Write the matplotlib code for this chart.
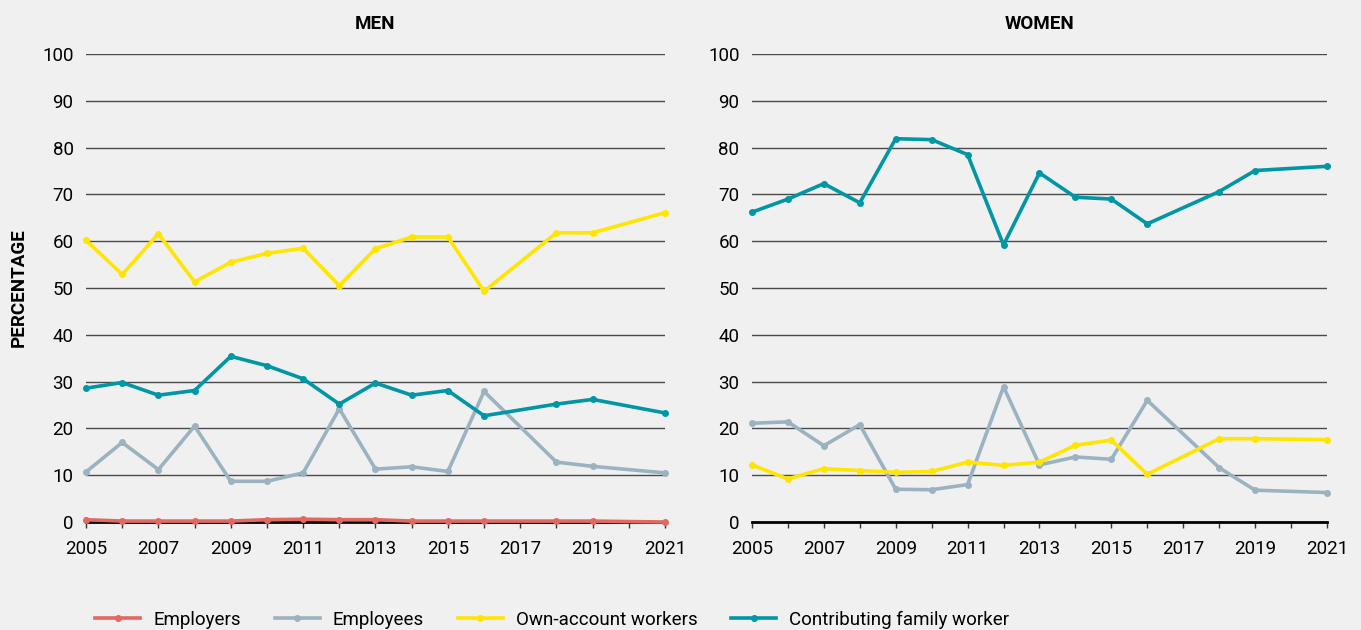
import matplotlib
matplotlib.use("Agg")
import matplotlib.pyplot as plt
import numpy as np

plt.rcParams["font.family"] = ["Roboto", "DejaVu Sans"]

YEARS = [2005, 2006, 2007, 2008, 2009, 2010, 2011, 2012, 2013, 2014, 2015, 2016, 2018, 2019, 2021]

MEN_EMPLOYERS = [0.5, 0.2, 0.2, 0.2, 0.2, 0.5, 0.6, 0.5, 0.5, 0.2, 0.2, 0.2, 0.2, 0.2, 0.0]
MEN_EMPLOYEES = [10.7, 17.0, 11.2, 20.5, 8.7, 8.7, 10.5, 24.2, 11.3, 11.8, 10.8, 27.9, 12.8, 11.9, 10.5]
MEN_OWN = [60.2, 52.9, 61.6, 51.3, 55.5, 57.4, 58.5, 50.5, 58.4, 60.9, 60.9, 49.3, 61.8, 61.8, 66.1]
MEN_FAMILY = [28.6, 29.8, 27.1, 28.1, 35.4, 33.4, 30.6, 25.2, 29.7, 27.1, 28.1, 22.7, 25.2, 26.2, 23.3]

WOMEN_EMPLOYEES = [21.1, 21.4, 16.3, 20.8, 7.0, 6.9, 8.0, 28.9, 12.2, 13.9, 13.4, 26.0, 11.6, 6.8, 6.3]
WOMEN_OWN = [12.2, 9.2, 11.4, 11.0, 10.6, 10.8, 12.8, 12.1, 12.8, 16.4, 17.5, 10.2, 17.8, 17.8, 17.6]
WOMEN_FAMILY = [66.2, 69.0, 72.3, 68.2, 81.9, 81.7, 78.5, 59.2, 74.6, 69.4, 69.0, 63.7, 70.6, 75.1, 76.0]

LABELS = ["Employers", "Employees", "Own-account workers", "Contributing family worker"]
COLORS = ["#e3685f", "#9bb3c0", "#ffe500", "#0096a5"]
BG = "#f0f0f0"

fig = plt.figure(figsize=(13.61, 6.30), dpi=100, facecolor=BG)
ax_men = fig.add_axes([0.0632, 0.1714, 0.4254, 0.7429])
ax_women = fig.add_axes([0.5525, 0.1714, 0.4225, 0.7429])

panels = [
    (ax_men, "MEN", [MEN_EMPLOYERS, MEN_EMPLOYEES, MEN_OWN, MEN_FAMILY]),
    (ax_women, "WOMEN", [None, WOMEN_EMPLOYEES, WOMEN_OWN, WOMEN_FAMILY]),
]

handles = []
for ax, title, series in panels:
    ax.set_facecolor(BG)
    ax.set_xlim(2005, 2021)
    ax.set_ylim(0, 100)
    ax.set_yticks(np.arange(0, 101, 10))
    ax.set_xticks(np.arange(2005, 2022, 2))
    ax.set_xticks(np.arange(2005, 2022, 1), minor=True)
    ax.grid(axis="y", color="#4a4a4a", lw=1.0)
    ax.set_axisbelow(True)
    for side in ["top", "right", "left"]:
        ax.spines[side].set_visible(False)
    ax.spines["bottom"].set_color("black")
    ax.spines["bottom"].set_linewidth(2.0)
    ax.tick_params(axis="y", length=0, labelsize=13.5, pad=9)
    ax.tick_params(axis="x", which="both", length=4, width=1, color="#333333", labelsize=13.5, pad=9)
    ax.set_title(title, fontsize=13.5, fontweight="bold", pad=18)
    for vals, lab, col in zip(series, LABELS, COLORS):
        if vals is None:
            continue
        line, = ax.plot(YEARS, vals, color=col, lw=2.6, marker="o", markersize=4,
                        label=lab, clip_on=False, zorder=3)
        if ax is ax_men:
            handles.append(line)

ax_men.set_ylabel("PERCENTAGE", fontsize=13.5, fontweight="bold")
ax_men.yaxis.set_label_coords(-0.1, 0.5)

fig.legend(handles=handles, labels=LABELS, loc="center left", bbox_to_anchor=(0.07, 0.016),
           ncol=4, frameon=False, fontsize=13.5, handlelength=2.4, columnspacing=1.8,
           handletextpad=0.7, borderaxespad=0, borderpad=0)

fig.savefig("out.png", dpi=100, facecolor=BG)
